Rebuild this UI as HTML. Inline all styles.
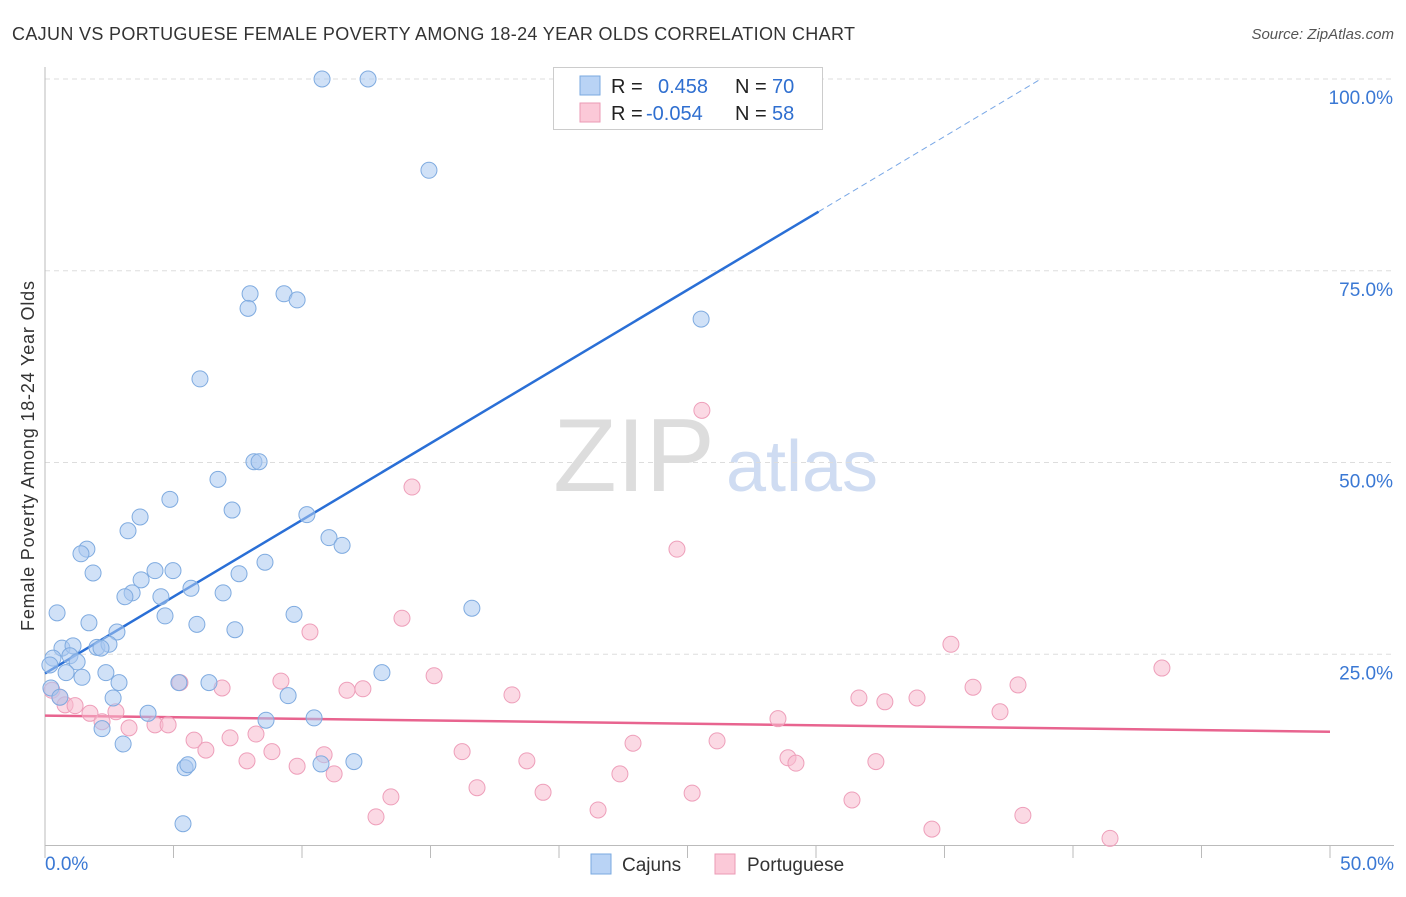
<!DOCTYPE html>
<html><head><meta charset="utf-8"><style>
body{margin:0;background:#fff;font-family:"Liberation Sans",sans-serif;}
svg text{font-family:"Liberation Sans",sans-serif;}
</style></head><body>
<svg id="chart" width="1406" height="892" xmlns="http://www.w3.org/2000/svg">
<text x="12" y="40" font-size="18" fill="#333" textLength="843">CAJUN VS PORTUGUESE FEMALE POVERTY AMONG 18-24 YEAR OLDS CORRELATION CHART</text>
<text x="1394" y="39" font-size="15" fill="#555" font-style="italic" text-anchor="end">Source: ZipAtlas.com</text>
<g><text x="634" y="491" font-size="104" fill="#ddd" font-family="Liberation Serif" text-anchor="middle">ZIP</text><text x="802" y="491" font-size="72" fill="#cfdcf2" text-anchor="middle">atlas</text></g>
<g id="grid"></g><g id="axes"></g><g id="trends"></g><g id="pts"></g>
<text x="34" y="456" font-size="18" fill="#333" text-anchor="middle" textLength="350" transform="rotate(-90 34 456)">Female Poverty Among 18-24 Year Olds</text>
<g>
<rect x="553.5" y="67.5" width="269" height="62" fill="#fff" stroke="#ccc"/>
<rect x="580" y="76" width="20" height="19" fill="#b9d3f5" stroke="#7aaae0"/>
<rect x="580" y="103" width="20" height="19" fill="#fbc9d8" stroke="#eb9ab5"/>
<text y="93" font-size="20" fill="#222"><tspan x="611">R =</tspan><tspan x="658" fill="#2f6fd0">0.458</tspan><tspan x="735">N =</tspan><tspan x="772" fill="#2f6fd0">70</tspan></text>
<text y="120" font-size="20" fill="#222"><tspan x="611">R =</tspan><tspan x="646" fill="#2f6fd0">-0.054</tspan><tspan x="735">N =</tspan><tspan x="772" fill="#2f6fd0">58</tspan></text>
</g>
<g>
<rect x="591" y="854" width="20" height="20" fill="#b9d3f5" stroke="#7aaae0"/>
<text x="622" y="871" font-size="19" fill="#333">Cajuns</text>
<rect x="715" y="854" width="20" height="20" fill="#fbc9d8" stroke="#eb9ab5"/>
<text x="747" y="871" font-size="19" fill="#333">Portuguese</text>
</g>
</svg>
<script>
const cajunX=[10.78,12.57,14.94,7.98,9.30,9.81,7.90,25.53,6.03,8.13,8.33,6.73,4.86,7.28,3.70,3.23,10.19,11.05,11.56,1.63,1.40,1.87,4.28,4.98,3.74,8.56,7.55,5.68,3.39,3.11,4.51,6.93,0.47,4.67,9.69,16.61,1.71,5.91,7.39,2.80,0.66,1.09,2.02,2.49,2.18,0.31,0.97,1.25,0.82,1.44,2.37,13.11,0.19,2.88,5.21,6.38,0.23,2.65,9.46,0.58,4.01,8.60,10.47,2.22,3.04,5.45,5.56,10.74,12.02,5.37];
const cajunY=[100,100,88.1,72.0,72.0,71.2,70.1,68.7,60.9,50.1,50.1,47.8,45.2,43.8,42.9,41.1,43.2,40.2,39.2,38.7,38.1,35.6,35.9,35.9,34.7,37.0,35.5,33.6,33.0,32.5,32.5,33.0,30.4,30.0,30.2,31.0,29.1,28.9,28.2,27.9,25.8,26.1,25.9,26.3,25.8,24.5,24.8,24.0,22.6,22.0,22.6,22.6,23.6,21.3,21.3,21.3,20.6,19.3,19.6,19.4,17.3,16.4,16.7,15.3,13.3,10.2,10.6,10.7,11.0,2.9];
const portX=[25.56,14.28,24.59,13.89,10.31,35.25,43.46,15.14,5.25,9.18,6.89,11.75,12.37,18.17,31.67,32.68,33.93,36.11,37.86,37.16,0.27,0.58,0.78,1.17,1.75,2.76,2.22,3.27,4.28,4.79,5.80,6.26,7.20,8.21,8.83,7.86,9.81,10.86,11.25,16.23,18.75,22.37,26.15,22.88,28.52,28.91,29.22,32.33,16.81,19.38,13.46,25.18,31.40,21.52,12.88,34.51,38.05,41.44];
const portY=[56.8,46.8,38.7,29.7,27.9,26.3,23.2,22.2,21.3,21.5,20.6,20.3,20.5,19.7,19.3,18.8,19.3,20.7,21.0,17.5,20.3,19.4,18.4,18.3,17.3,17.5,16.2,15.4,15.8,15.8,13.8,12.5,14.1,14.6,12.3,11.1,10.4,11.9,9.4,12.3,11.1,9.4,13.7,13.4,16.6,11.5,10.8,11.0,7.6,7.0,6.4,6.9,6.0,4.7,3.8,2.2,4.0,1.0];
const cajunTrend=[22.5,2.0];  // intercept, slope
const portTrend=[17.0,-0.042];
const yTicks=[25,50,75,100];
const xTickVals=[0,5,10,15,20,25,30,35,40,45,50];
const NS='http://www.w3.org/2000/svg';
const sx=v=>45+v*25.7, sy=v=>846-v*7.67;
function mk(parent,tag,attrs){const e=document.createElementNS(NS,tag);for(const k in attrs)e.setAttribute(k,attrs[k]);document.getElementById(parent).appendChild(e);return e;}
yTicks.forEach(t=>{
 const l=mk('grid','line',{x1:45,x2:1394,y1:sy(t),y2:sy(t),stroke:'#ddd','stroke-dasharray':'5,4'});
 
 
 const tx=mk('grid','text',{x:1393,y:sy(t)+25,'font-size':19,fill:'#3a78d4','text-anchor':'end'});
 tx.textContent=t.toFixed(1)+'%';
 
 
});
const ax=mk('axes','line',{x1:45,x2:45,y1:67,y2:846,stroke:'#bbb'});


const bx=mk('axes','line',{x1:45,x2:1394,y1:845.5,y2:845.5,stroke:'#bbb'});


xTickVals.forEach(t=>{const l=mk('axes','line',{x1:sx(t),x2:sx(t),y1:846,y2:858,stroke:'#bbb'});
 
 });
[[0,'0.0%','start',45],[50,'50.0%','end',1394]].forEach(a=>{const t=mk('axes','text',{x:a[3],y:870,'font-size':19,fill:'#3a78d4','text-anchor':a[2]});t.textContent=a[1];
 
 });
function pts(xs,ys,fill,stroke,name){xs.forEach((x,i)=>{const c=mk('pts','circle',{cx:sx(x),cy:sy(ys[i]),r:8,fill:fill,'fill-opacity':0.55,stroke:stroke,'stroke-width':1});
 
 });}
pts(portX,portY,'#f8b9cd','#ee9fba','portuguese');
pts(cajunX,cajunY,'#a9c8f0','#7fabe0','cajun');
const xEnd=(100-cajunTrend[0])/cajunTrend[1], xSolid=30.1;
const t1=mk('trends','line',{x1:sx(0),y1:sy(cajunTrend[0]),x2:sx(xSolid),y2:sy(cajunTrend[0]+cajunTrend[1]*xSolid),stroke:'#2a6fd6','stroke-width':2.5});


const t2=mk('trends','line',{x1:sx(xSolid),y1:sy(cajunTrend[0]+cajunTrend[1]*xSolid),x2:sx(xEnd),y2:sy(100),stroke:'#7aa8e6','stroke-width':1,'stroke-dasharray':'6,4'});


const t3=mk('trends','line',{x1:sx(0),y1:sy(portTrend[0]),x2:sx(50),y2:sy(portTrend[0]+portTrend[1]*50),stroke:'#e8648f','stroke-width':2.5});


</script>
</body></html>
